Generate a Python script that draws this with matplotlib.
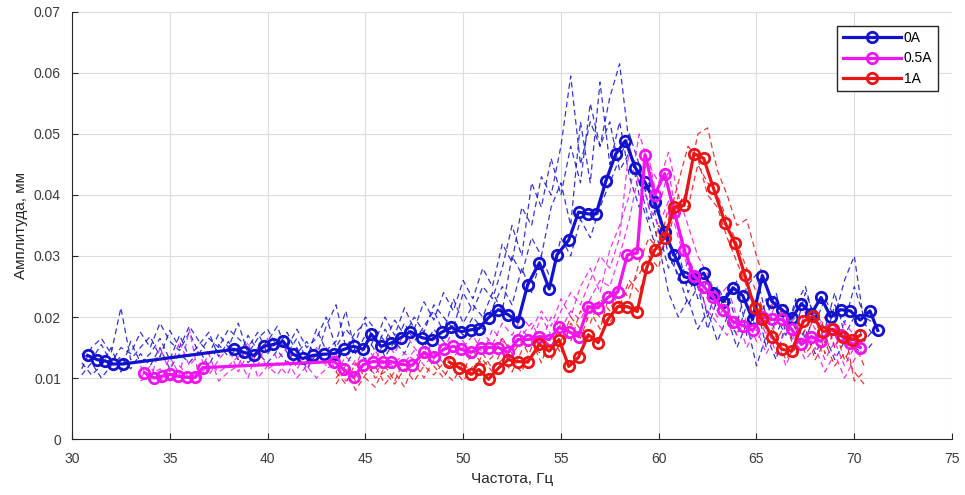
import matplotlib

matplotlib.use("Agg")
import matplotlib.pyplot as plt

plt.rcParams["font.family"] = ["Liberation Sans", "DejaVu Sans"]

# averaged response curves, one per current
blue_x = [30.8, 31.3, 31.7, 32.1, 32.6, 38.3, 38.8, 39.3, 39.8, 40.3, 40.8, 41.3, 41.8, 42.3,
          42.9, 43.4, 43.9, 44.4, 44.9, 45.3, 45.8, 46.3, 46.8, 47.3, 47.9, 48.4, 48.9, 49.4,
          49.9, 50.4, 50.8, 51.3, 51.8, 52.3, 52.8, 53.3, 53.9, 54.4, 54.8, 55.4, 55.9, 56.4,
          56.8, 57.3, 57.8, 58.3, 58.8, 59.3, 59.8, 60.3, 60.8, 61.3, 61.8, 62.3, 62.8, 63.3,
          63.8, 64.3, 64.8, 65.3, 65.8, 66.3, 66.8, 67.3, 67.8, 68.3, 68.8, 69.3, 69.8, 70.3,
          70.8, 71.2]
blue_y = [0.0137, 0.0130, 0.0128, 0.0123, 0.0123, 0.0147, 0.0142, 0.0137, 0.0152, 0.0155,
          0.0160, 0.0139, 0.0132, 0.0137, 0.0139, 0.0140, 0.0147, 0.0152, 0.0147, 0.0172,
          0.0152, 0.0157, 0.0166, 0.0176, 0.0166, 0.0163, 0.0175, 0.0183, 0.0176, 0.0179,
          0.0181, 0.0199, 0.0212, 0.0204, 0.0192, 0.0253, 0.0289, 0.0246, 0.0302, 0.0326,
          0.0372, 0.0369, 0.0369, 0.0423, 0.0467, 0.0489, 0.0445, 0.0421, 0.0388, 0.0339,
          0.0302, 0.0266, 0.0262, 0.0272, 0.0240, 0.0225, 0.0248, 0.0235, 0.0196, 0.0268,
          0.0225, 0.0212, 0.0198, 0.0222, 0.0205, 0.0232, 0.0200, 0.0212, 0.0210, 0.0195,
          0.0210, 0.0178]

magenta_x = [33.7, 34.2, 34.6, 35.0, 35.4, 35.9, 36.3, 36.7, 43.4, 43.9, 44.4, 44.9, 45.4,
             45.9, 46.3, 46.9, 47.4, 48.0, 48.5, 49.0, 49.5, 49.9, 50.4, 50.9, 51.3, 51.8,
             52.3, 52.8, 53.3, 53.9, 54.4, 54.9, 55.4, 55.9, 56.4, 56.9, 57.4, 57.9, 58.4,
             58.9, 59.3, 59.8, 60.3, 60.8, 61.3, 61.8, 62.3, 62.8, 63.3, 63.8, 64.3, 64.8,
             65.3, 65.8, 66.3, 66.8, 67.3, 67.8, 68.3, 68.8, 69.3, 69.8, 70.3]
magenta_y = [0.0109, 0.0100, 0.0103, 0.0106, 0.0103, 0.0101, 0.0101, 0.0117, 0.0127, 0.0114,
             0.0101, 0.0122, 0.0127, 0.0126, 0.0127, 0.0122, 0.0121, 0.0142, 0.0134, 0.0147,
             0.0152, 0.0147, 0.0142, 0.0150, 0.0150, 0.0150, 0.0142, 0.0163, 0.0163, 0.0168,
             0.0163, 0.0183, 0.0176, 0.0168, 0.0217, 0.0215, 0.0232, 0.0241, 0.0302, 0.0305,
             0.0466, 0.0400, 0.0435, 0.0372, 0.0310, 0.0268, 0.0250, 0.0232, 0.0212, 0.0192,
             0.0186, 0.0178, 0.0200, 0.0196, 0.0196, 0.0180, 0.0155, 0.0168, 0.0160, 0.0180,
             0.0170, 0.0158, 0.0150]

red_x = [49.3, 49.8, 50.4, 50.8, 51.3, 51.8, 52.3, 52.8, 53.3, 53.9, 54.4, 54.9, 55.4, 55.9,
         56.4, 56.9, 57.4, 57.9, 58.4, 58.9, 59.4, 59.8, 60.3, 60.8, 61.3, 61.8, 62.3, 62.8,
         63.4, 63.9, 64.4, 64.9, 65.3, 65.8, 66.3, 66.8, 67.4, 67.9, 68.4, 68.9, 69.4, 69.9,
         70.3]
red_y = [0.0126, 0.0117, 0.0106, 0.0114, 0.0098, 0.0116, 0.0130, 0.0127, 0.0126, 0.0155,
         0.0144, 0.0163, 0.0119, 0.0134, 0.0171, 0.0158, 0.0196, 0.0217, 0.0217, 0.0209,
         0.0282, 0.0310, 0.0330, 0.0380, 0.0383, 0.0468, 0.0460, 0.0411, 0.0354, 0.0321,
         0.0269, 0.0215, 0.0196, 0.0168, 0.0147, 0.0144, 0.0193, 0.0201, 0.0176, 0.0180,
         0.0168, 0.0163, 0.0170]

# individual runs (dashed)
blue_raw_x = [30.5, 31.0, 31.5, 32.0, 32.5, 33.0, 33.5, 34.0, 34.5, 35.0,
              35.5, 36.0, 36.5, 37.0, 37.5, 38.0, 38.5, 39.0, 39.5, 40.0,
              40.5, 41.0, 41.5, 42.0, 42.5, 43.0, 43.5, 44.0, 44.5, 45.0,
              45.5, 46.0, 46.5, 47.0, 47.5, 48.0, 48.5, 49.0, 49.5, 50.0,
              50.5, 51.0, 51.5, 52.0, 52.5, 53.0, 53.5, 54.0, 54.5, 55.0,
              55.5, 56.0, 56.5, 57.0, 57.5, 58.0, 58.5, 59.0, 59.5, 60.0,
              60.5, 61.0, 61.5, 62.0, 62.5, 63.0, 63.5, 64.0, 64.5, 65.0,
              65.5, 66.0, 66.5, 67.0, 67.5, 68.0, 68.5, 69.0, 69.5, 70.0,
              70.5, 71.0]
blue_raw = [
    [0.0115, 0.0150, 0.0165, 0.0140, 0.0215, 0.0130, 0.0150, 0.0168, 0.0135, 0.0178,
     0.0150, 0.0185, 0.0160, 0.0140, 0.0172, 0.0150, 0.0190, 0.0140, 0.0165, 0.0180,
     0.0150, 0.0175, 0.0140, 0.0160, 0.0135, 0.0185, 0.0220, 0.0150, 0.0175, 0.0190,
     0.0160, 0.0200, 0.0170, 0.0215, 0.0180, 0.0225, 0.0195, 0.0240, 0.0210, 0.0260,
     0.0230, 0.0280, 0.0250, 0.0320, 0.0290, 0.0380, 0.0350, 0.0430, 0.0400, 0.0480,
     0.0595, 0.0450, 0.0520, 0.0480, 0.0560, 0.0615, 0.0480, 0.0400, 0.0350, 0.0300,
     0.0330, 0.0260, 0.0290, 0.0230, 0.0260, 0.0210, 0.0240, 0.0190, 0.0250, 0.0270,
     0.0200, 0.0240, 0.0180, 0.0220, 0.0250, 0.0190, 0.0230, 0.0200, 0.0260, 0.0300,
     0.0190, 0.0170],
    [0.0125, 0.0105, 0.0120, 0.0150, 0.0110, 0.0160, 0.0125, 0.0140, 0.0165, 0.0130,
     0.0170, 0.0135, 0.0155, 0.0175, 0.0135, 0.0160, 0.0130, 0.0170, 0.0145, 0.0160,
     0.0185, 0.0140, 0.0165, 0.0130, 0.0180, 0.0145, 0.0160, 0.0210, 0.0140, 0.0170,
     0.0145, 0.0180, 0.0155, 0.0190, 0.0160, 0.0185, 0.0210, 0.0175, 0.0230, 0.0190,
     0.0220, 0.0200, 0.0240, 0.0210, 0.0300, 0.0270, 0.0330, 0.0300, 0.0380, 0.0420,
     0.0350, 0.0520, 0.0420, 0.0585, 0.0450, 0.0520, 0.0430, 0.0380, 0.0420, 0.0340,
     0.0280, 0.0310, 0.0240, 0.0270, 0.0200, 0.0250, 0.0220, 0.0260, 0.0170, 0.0220,
     0.0150, 0.0200, 0.0170, 0.0230, 0.0160, 0.0210, 0.0180, 0.0240, 0.0170, 0.0200,
     0.0160, 0.0180],
    [0.0105, 0.0125, 0.0100, 0.0120, 0.0135, 0.0115, 0.0140, 0.0120, 0.0150, 0.0115,
     0.0140, 0.0125, 0.0145, 0.0120, 0.0155, 0.0135, 0.0150, 0.0125, 0.0140, 0.0125,
     0.0145, 0.0125, 0.0150, 0.0115, 0.0140, 0.0125, 0.0130, 0.0120, 0.0150, 0.0130,
     0.0170, 0.0135, 0.0160, 0.0140, 0.0175, 0.0150, 0.0180, 0.0160, 0.0190, 0.0170,
     0.0200, 0.0180, 0.0215, 0.0250, 0.0220, 0.0280, 0.0240, 0.0300, 0.0260, 0.0330,
     0.0300, 0.0360, 0.0330, 0.0380, 0.0420, 0.0460, 0.0500, 0.0450, 0.0380, 0.0320,
     0.0240, 0.0200, 0.0230, 0.0180, 0.0210, 0.0160, 0.0200, 0.0150, 0.0190, 0.0120,
     0.0170, 0.0130, 0.0190, 0.0150, 0.0180, 0.0140, 0.0170, 0.0130, 0.0160, 0.0150,
     0.0140, 0.0160],
    [0.0140, 0.0130, 0.0155, 0.0125, 0.0150, 0.0140, 0.0175, 0.0150, 0.0190, 0.0160,
     0.0145, 0.0175, 0.0140, 0.0165, 0.0150, 0.0180, 0.0165, 0.0150, 0.0175, 0.0140,
     0.0160, 0.0150, 0.0180, 0.0150, 0.0165, 0.0200, 0.0150, 0.0180, 0.0160, 0.0200,
     0.0180, 0.0160, 0.0195, 0.0170, 0.0200, 0.0175, 0.0220, 0.0200, 0.0180, 0.0240,
     0.0210, 0.0250, 0.0230, 0.0280, 0.0350, 0.0300, 0.0420, 0.0380, 0.0460, 0.0400,
     0.0480, 0.0420, 0.0550, 0.0480, 0.0520, 0.0440, 0.0470, 0.0420, 0.0360, 0.0380,
     0.0300, 0.0270, 0.0220, 0.0250, 0.0180, 0.0230, 0.0200, 0.0170, 0.0220, 0.0180,
     0.0230, 0.0170, 0.0210, 0.0180, 0.0240, 0.0200, 0.0160, 0.0220, 0.0190, 0.0250,
     0.0200, 0.0190],
]

magenta_raw_x = [33.5, 34.0, 34.5, 35.0, 35.5, 36.0, 36.5, 37.0, 37.5, 38.0,
                 38.5, 39.0, 39.5, 40.0, 40.5, 41.0, 41.5, 42.0, 42.5, 43.0,
                 43.5, 44.0, 44.5, 45.0, 45.5, 46.0, 46.5, 47.0, 47.5, 48.0,
                 48.5, 49.0, 49.5, 50.0, 50.5, 51.0, 51.5, 52.0, 52.5, 53.0,
                 53.5, 54.0, 54.5, 55.0, 55.5, 56.0, 56.5, 57.0, 57.5, 58.0,
                 58.5, 59.0, 59.5, 60.0, 60.5, 61.0, 61.5, 62.0, 62.5, 63.0,
                 63.5, 64.0, 64.5, 65.0, 65.5, 66.0, 66.5, 67.0, 67.5, 68.0,
                 68.5, 69.0, 69.5, 70.0, 70.5]
magenta_raw = [
    [0.0120, 0.0095, 0.0150, 0.0110, 0.0160, 0.0120, 0.0140, 0.0105, 0.0130, 0.0150,
     0.0110, 0.0140, 0.0120, 0.0165, 0.0130, 0.0150, 0.0115, 0.0140, 0.0125, 0.0150,
     0.0110, 0.0135, 0.0120, 0.0155, 0.0130, 0.0160, 0.0140, 0.0175, 0.0150, 0.0130,
     0.0165, 0.0145, 0.0180, 0.0160, 0.0140, 0.0175, 0.0155, 0.0190, 0.0170, 0.0200,
     0.0180, 0.0210, 0.0185, 0.0230, 0.0200, 0.0250, 0.0280, 0.0240, 0.0310, 0.0350,
     0.0400, 0.0500, 0.0450, 0.0420, 0.0470, 0.0400, 0.0350, 0.0300, 0.0270, 0.0230,
     0.0250, 0.0200, 0.0180, 0.0210, 0.0170, 0.0230, 0.0190, 0.0160, 0.0210, 0.0180,
     0.0200, 0.0150, 0.0190, 0.0170, 0.0140],
    [0.0100, 0.0120, 0.0090, 0.0135, 0.0105, 0.0180, 0.0100, 0.0125, 0.0110, 0.0120,
     0.0135, 0.0100, 0.0150, 0.0115, 0.0125, 0.0105, 0.0140, 0.0110, 0.0150, 0.0120,
     0.0140, 0.0105, 0.0130, 0.0110, 0.0145, 0.0120, 0.0125, 0.0140, 0.0130, 0.0150,
     0.0130, 0.0160, 0.0140, 0.0150, 0.0170, 0.0140, 0.0180, 0.0160, 0.0150, 0.0180,
     0.0160, 0.0200, 0.0170, 0.0210, 0.0240, 0.0220, 0.0260, 0.0300, 0.0280, 0.0330,
     0.0480, 0.0420, 0.0460, 0.0380, 0.0440, 0.0350, 0.0300, 0.0260, 0.0230, 0.0200,
     0.0220, 0.0170, 0.0200, 0.0160, 0.0190, 0.0140, 0.0180, 0.0200, 0.0150, 0.0170,
     0.0130, 0.0160, 0.0120, 0.0150, 0.0160],
    [0.0095, 0.0105, 0.0115, 0.0095, 0.0120, 0.0100, 0.0110, 0.0140, 0.0095, 0.0110,
     0.0120, 0.0160, 0.0100, 0.0120, 0.0105, 0.0130, 0.0100, 0.0120, 0.0100, 0.0115,
     0.0125, 0.0095, 0.0110, 0.0125, 0.0105, 0.0135, 0.0115, 0.0125, 0.0145, 0.0120,
     0.0140, 0.0125, 0.0135, 0.0150, 0.0130, 0.0155, 0.0140, 0.0165, 0.0145, 0.0170,
     0.0190, 0.0160, 0.0200, 0.0180, 0.0210, 0.0195, 0.0230, 0.0260, 0.0250, 0.0300,
     0.0360, 0.0440, 0.0380, 0.0350, 0.0390, 0.0330, 0.0280, 0.0250, 0.0210, 0.0190,
     0.0170, 0.0200, 0.0150, 0.0180, 0.0140, 0.0170, 0.0120, 0.0160, 0.0130, 0.0150,
     0.0110, 0.0140, 0.0100, 0.0130, 0.0150],
]

red_raw_x = [43.5, 44.0, 44.5, 45.0, 45.5, 46.0, 46.5, 47.0, 47.5, 48.0,
             48.5, 49.0, 49.5, 50.0, 50.5, 51.0, 51.5, 52.0, 52.5, 53.0,
             53.5, 54.0, 54.5, 55.0, 55.5, 56.0, 56.5, 57.0, 57.5, 58.0,
             58.5, 59.0, 59.5, 60.0, 60.5, 61.0, 61.5, 62.0, 62.5, 63.0,
             63.5, 64.0, 64.5, 65.0, 65.5, 66.0, 66.5, 67.0, 67.5, 68.0,
             68.5, 69.0, 69.5, 70.0, 70.5]
red_raw = [
    [0.0110, 0.0090, 0.0125, 0.0100, 0.0085, 0.0120, 0.0095, 0.0130, 0.0110, 0.0140,
     0.0120, 0.0100, 0.0130, 0.0110, 0.0145, 0.0120, 0.0135, 0.0165, 0.0140, 0.0160,
     0.0130, 0.0170, 0.0150, 0.0190, 0.0160, 0.0210, 0.0190, 0.0230, 0.0210, 0.0250,
     0.0230, 0.0290, 0.0330, 0.0310, 0.0380, 0.0360, 0.0420, 0.0500, 0.0510, 0.0440,
     0.0400, 0.0350, 0.0360, 0.0300, 0.0250, 0.0200, 0.0220, 0.0180, 0.0140, 0.0160,
     0.0200, 0.0150, 0.0180, 0.0095, 0.0110],
    [0.0090, 0.0115, 0.0080, 0.0105, 0.0120, 0.0090, 0.0110, 0.0085, 0.0125, 0.0100,
     0.0130, 0.0110, 0.0095, 0.0125, 0.0105, 0.0140, 0.0115, 0.0130, 0.0110, 0.0145,
     0.0160, 0.0125, 0.0170, 0.0140, 0.0190, 0.0165, 0.0210, 0.0180, 0.0240, 0.0220,
     0.0260, 0.0240, 0.0290, 0.0350, 0.0330, 0.0400, 0.0380, 0.0450, 0.0420, 0.0400,
     0.0360, 0.0320, 0.0280, 0.0240, 0.0200, 0.0170, 0.0130, 0.0150, 0.0180, 0.0130,
     0.0160, 0.0120, 0.0140, 0.0110, 0.0090],
    [0.0100, 0.0120, 0.0095, 0.0130, 0.0100, 0.0110, 0.0090, 0.0115, 0.0095, 0.0120,
     0.0105, 0.0125, 0.0115, 0.0095, 0.0120, 0.0130, 0.0110, 0.0150, 0.0125, 0.0110,
     0.0150, 0.0140, 0.0130, 0.0160, 0.0200, 0.0180, 0.0215, 0.0200, 0.0190, 0.0220,
     0.0250, 0.0270, 0.0300, 0.0280, 0.0360, 0.0420, 0.0480, 0.0460, 0.0400, 0.0380,
     0.0330, 0.0290, 0.0250, 0.0220, 0.0180, 0.0160, 0.0190, 0.0140, 0.0170, 0.0200,
     0.0140, 0.0180, 0.0130, 0.0160, 0.0120],
]

labels = ["0A", "0.5A", "1A"]
colors = ["#1212cc", "#f014f0", "#e81616"]

fig = plt.figure(figsize=(9.65, 4.95), dpi=100)
ax = fig.add_axes([0.0746, 0.1131, 0.912, 0.8627])

raw_sets = [(blue_raw_x, blue_raw), (magenta_raw_x, magenta_raw), (red_raw_x, red_raw)]
for (rx, runs), color in zip(raw_sets, colors):
    for run in runs:
        ax.plot(rx, run, color=color, linewidth=0.9, linestyle=(0, (4.5, 3)),
                alpha=0.85, zorder=2)

means = [(blue_x, blue_y), (magenta_x, magenta_y), (red_x, red_y)]
for (mx, my), color, label in zip(means, colors, labels):
    ax.plot(mx, my, color=color, linewidth=2.3, marker="o", markersize=7.5,
            markerfacecolor="none", markeredgewidth=2.0, label=label, zorder=4)

ax.set_xlim(30, 75)
ax.set_ylim(0, 0.07)
ax.set_xticks(range(30, 76, 5))
ax.set_yticks([0, 0.01, 0.02, 0.03, 0.04, 0.05, 0.06, 0.07])
ax.set_yticklabels(["0", "0.01", "0.02", "0.03", "0.04", "0.05", "0.06", "0.07"])
ax.grid(True, color="#dcdcdc", linewidth=0.8)
ax.set_axisbelow(True)
for side in ("top", "right"):
    ax.spines[side].set_visible(False)
for side in ("left", "bottom"):
    ax.spines[side].set_color("#262626")
    ax.spines[side].set_linewidth(0.8)
ax.tick_params(direction="in", length=4, width=0.8, colors="#262626",
               labelsize=10, labelcolor="#3a3a3a")
ax.tick_params(axis="x", pad=9)
ax.tick_params(axis="y", pad=8)
ax.set_xlabel("Частота, Гц", fontsize=11, color="#262626", labelpad=5)
ax.set_ylabel("Амплитуда, мм", fontsize=11, color="#262626", labelpad=4)

ax.legend(loc="upper right", bbox_to_anchor=(0.984, 0.968), frameon=True,
          fancybox=False, edgecolor="#262626", framealpha=1.0, fontsize=10,
          handlelength=4.2, handletextpad=0.2, borderpad=0.4, labelspacing=0.45,
          borderaxespad=0)

fig.savefig("out.png", dpi=100, facecolor="white")
plt.close(fig)
